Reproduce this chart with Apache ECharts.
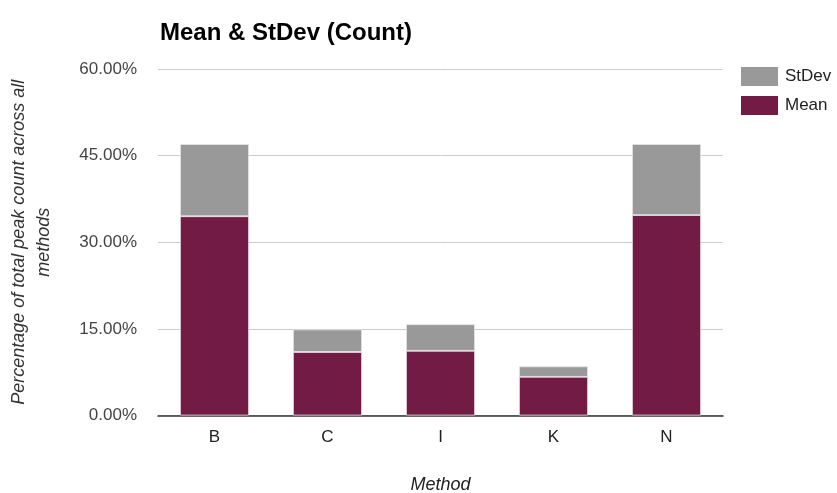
<!DOCTYPE html>
<html>
<head>
<meta charset="utf-8">
<script src="https://cdn.jsdelivr.net/npm/echarts@6/dist/echarts.min.js"></script>
<style>
  html, body { margin: 0; padding: 0; background: #fff; }
  #chart { width: 837px; height: 493px; }
</style>
</head>
<body>
<div id="chart"></div>
<script>
// Methods on the x axis
const methods = ['B', 'C', 'I', 'K', 'N'];
// Mean share of total peak count (%)
const meanValues = [34.5, 11.0, 11.2, 6.7, 34.7];
// Standard deviation, stacked on top of the mean (%)
const stdevValues = [12.5, 3.9, 4.6, 1.8, 12.3];
// Value axis ticks
const yTicks = [0, 15, 30, 45, 60];

const FONT = '"Liberation Sans", Arial, sans-serif';

const chart = echarts.init(document.getElementById('chart'), null, { renderer: 'canvas' });
chart.setOption({
  animation: false,
  backgroundColor: '#ffffff',
  textStyle: { fontFamily: FONT },
  title: {
    text: 'Mean & StDev (Count)',
    left: 155,
    top: 16,
    textStyle: { fontFamily: FONT, fontSize: 24, fontWeight: 'bold', color: '#000' }
  },
  legend: {
    data: ['StDev', 'Mean'],
    orient: 'vertical',
    left: 741,
    top: 67,
    padding: 0,
    itemWidth: 37,
    itemHeight: 19,
    itemGap: 10,
    icon: 'rect',
    itemStyle: { borderWidth: 0 },
    textStyle: { fontFamily: FONT, fontSize: 17, color: '#222', padding: [0, 0, 0, 2] }
  },
  grid: { left: 158, right: 114, top: 69, bottom: 77.5, containLabel: false, outerBoundsMode: 'none' },
  xAxis: {
    type: 'category',
    data: methods,
    name: 'Method',
    nameLocation: 'middle',
    nameGap: 60,
    nameTextStyle: { fontFamily: FONT, fontSize: 18, fontStyle: 'italic', color: '#222' },
    axisTick: { show: false },
    axisLine: { lineStyle: { color: '#333', width: 1.5 } },
    axisLabel: { margin: 13, fontFamily: FONT, fontSize: 17, color: '#222' }
  },
  yAxis: {
    type: 'value',
    min: yTicks[0],
    max: yTicks[yTicks.length - 1],
    interval: yTicks[1] - yTicks[0],
    name: 'Percentage of total peak count across all\nmethods',
    nameLocation: 'middle',
    nameRotate: 90,
    nameGap: 102,
    nameTextStyle: { fontFamily: FONT, fontSize: 18, fontStyle: 'italic', color: '#333', lineHeight: 25 },
    axisLine: { show: false },
    axisTick: { show: false },
    splitLine: { lineStyle: { color: '#cccccc', width: 1 } },
    axisLabel: {
      margin: 21,
      fontFamily: FONT,
      fontSize: 17,
      color: '#444',
      formatter: v => v.toFixed(2) + '%'
    }
  },
  series: [
    {
      name: 'Mean',
      type: 'bar',
      stack: 'total',
      data: meanValues,
      barWidth: '61%',
      itemStyle: { color: '#721c45', borderColor: '#e8dbe1', borderWidth: 0.8 }
    },
    {
      name: 'StDev',
      type: 'bar',
      stack: 'total',
      data: stdevValues,
      barWidth: '61%',
      itemStyle: { color: '#999999', borderColor: '#e6e6e6', borderWidth: 0.8 }
    }
  ]
});
</script>
</body>
</html>
